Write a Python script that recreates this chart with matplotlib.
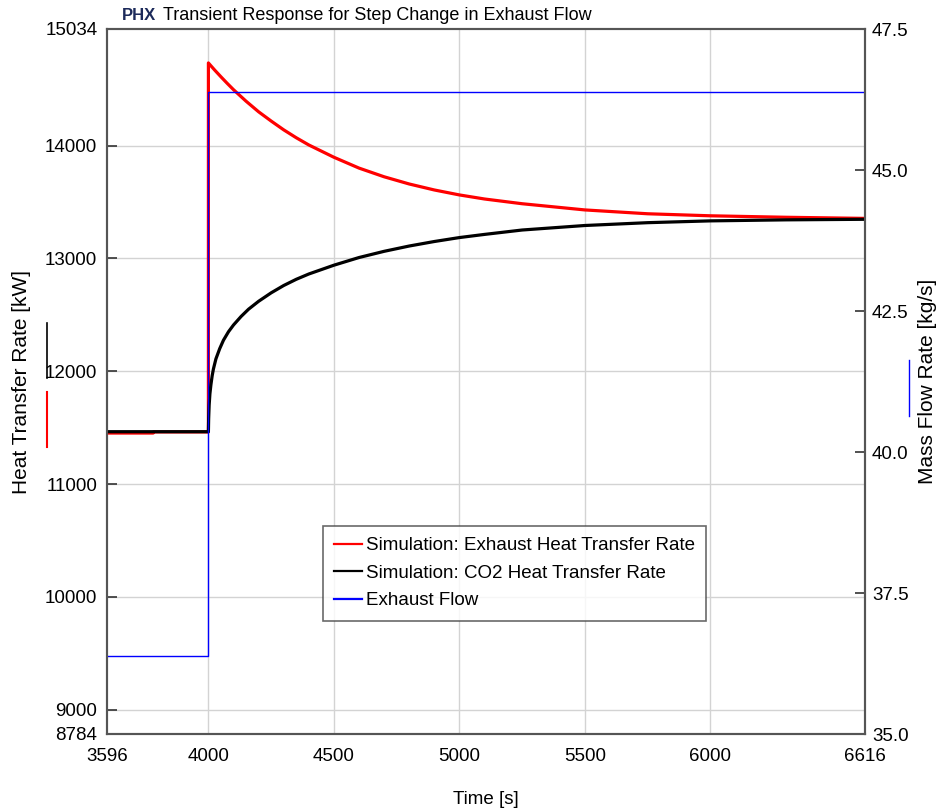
import matplotlib
matplotlib.use("Agg")
import matplotlib.pyplot as plt
from matplotlib.lines import Line2D

plt.rcParams['font.family'] = ['Liberation Sans', 'DejaVu Sans']

# ---- data ----
red_t = [3596, 3780, 3781, 4000, 4000, 4025, 4050, 4075, 4100, 4150, 4200, 4250, 4300, 4350, 4400,
         4500, 4600, 4700, 4800, 4900, 5000, 5100, 5250, 5500, 5750, 6000, 6300, 6616]
red_q = [11452, 11452, 11462, 11462, 14733, 14670, 14610, 14552, 14496, 14394, 14300, 14218, 14140,
         14070, 14006, 13897, 13801, 13724, 13660, 13607, 13563, 13527, 13485, 13430, 13396, 13378,
         13365, 13355]

blk_t = [3596, 4000, 4001, 4003, 4006, 4010, 4015, 4020, 4030, 4045, 4060, 4080, 4100, 4130, 4160,
         4200, 4250, 4300, 4350, 4400, 4500, 4600, 4700, 4800, 4900, 5000, 5100, 5250, 5500, 5750,
         6000, 6300, 6616]
blk_q = [11464, 11464, 11580, 11700, 11800, 11880, 11960, 12020, 12110, 12200, 12275, 12350, 12410,
         12485, 12550, 12620, 12695, 12760, 12815, 12862, 12940, 13008, 13063, 13110, 13150, 13185,
         13213, 13252, 13292, 13317, 13333, 13342, 13347]

flow_t = [3596, 4000, 4000, 6616]
flow_m = [36.38, 36.38, 46.38, 46.38]

x_ticks = [3596, 4000, 4500, 5000, 5500, 6000, 6616]
yl_ticks = [8784, 9000, 10000, 11000, 12000, 13000, 14000, 15034]
yr_ticks = [35.0, 37.5, 40.0, 42.5, 45.0, 47.5]
labels = ["Simulation: Exhaust Heat Transfer Rate", "Simulation: CO2 Heat Transfer Rate", "Exhaust Flow"]

W, H = 947, 810
fig = plt.figure(figsize=(W / 100, H / 100), dpi=100)
L, R, T, B = 107, 865, 29, 734
ax = fig.add_axes([L / W, 1 - B / H, (R - L) / W, (B - T) / H])
ax2 = ax.twinx()

FS = 13.5
l1, = ax.plot(red_t, red_q, color='#ff0000', lw=2.3, zorder=3)
l2, = ax.plot(blk_t, blk_q, color='#000000', lw=2.3, zorder=4)
l3, = ax2.plot(flow_t, flow_m, color='#0000ff', lw=1.0)

ax.set_xlim(3596, 6616)
ax.set_ylim(8784, 15034)
ax2.set_ylim(35.0, 47.5)
ax.set_xticks(x_ticks)
ax.set_xticklabels([str(v) for v in x_ticks])
ax.set_yticks(yl_ticks)
ax.set_yticklabels([str(v) for v in yl_ticks])
ax2.set_yticks(yr_ticks)
ax2.set_yticklabels([f"{v:.1f}" for v in yr_ticks])

# grid only on interior ticks
for xv in x_ticks[1:-1]:
    ax.axvline(xv, color='#d3d3d3', lw=1.0, zorder=1)
for yv in yl_ticks[1:-1]:
    ax.axhline(yv, color='#d3d3d3', lw=1.0, zorder=1)

for a in (ax, ax2):
    for s in a.spines.values():
        s.set_color('#555555')
        s.set_linewidth(1.5)
ax.tick_params(axis='y', direction='in', length=7, width=1.2, color='#333333', labelsize=13.5, pad=7)
ax.tick_params(axis='x', direction='in', length=0, labelsize=13.5, pad=10)
ax2.tick_params(axis='y', direction='in', length=7, width=1.2, color='#333333', labelsize=13.5, pad=5)

ax.set_xlabel("Time [s]", fontsize=13.5, labelpad=19)
ax.set_ylabel("Heat Transfer Rate [kW]", fontsize=15)
ax2.set_ylabel("Mass Flow Rate [kg/s]", fontsize=15)
ax.yaxis.set_label_coords(-0.1, 0.5)
ax2.yaxis.set_label_coords(1.07, 0.5)

# colour key lines beside axis labels
fig.add_artist(Line2D([47 / W, 47 / W], [1 - 323 / H, 1 - 378 / H], color='black', lw=1.2, transform=fig.transFigure))
fig.add_artist(Line2D([47 / W, 47 / W], [1 - 392 / H, 1 - 447 / H], color='red', lw=1.5, transform=fig.transFigure))
fig.add_artist(Line2D([909 / W, 909 / W], [1 - 360 / H, 1 - 416 / H], color='blue', lw=1.0, transform=fig.transFigure))

# title
fig.text(122 / W, 1 - 20 / H, "PHX", fontsize=12, fontweight='bold', color='#1c2a5a', va='baseline', ha='left')
fig.text(163 / W, 1 - 20 / H, "Transient Response for Step Change in Exhaust Flow", fontsize=13,
         color='black', va='baseline', ha='left')

leg = ax2.legend([l1, l2, l3], labels, loc='upper left',
                 bbox_to_anchor=((323 - L) / (R - L), 1 - (526 - T) / (B - T)),
                 fontsize=FS, frameon=True, fancybox=False, handlelength=1.5, handletextpad=0.2,
                 borderpad=0.6, labelspacing=0.55, borderaxespad=0)
leg.get_frame().set_edgecolor('#444444')
leg.get_frame().set_linewidth(1.2)
for h in leg.get_lines():
    h.set_linewidth(1.6)

fig.savefig("out.png", dpi=100)
